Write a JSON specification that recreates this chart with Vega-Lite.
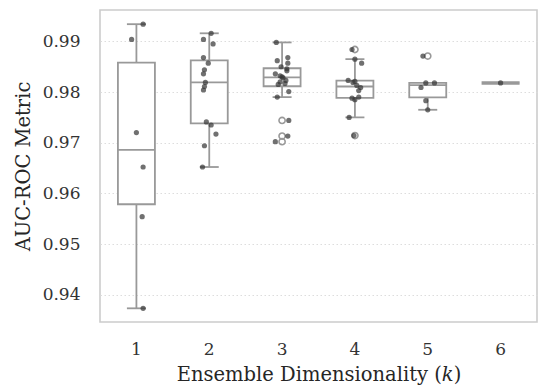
{
  "$schema": "https://vega.github.io/schema/vega-lite/v6.json",
  "width": 437,
  "height": 312,
  "autosize": "none",
  "padding": {"left": 100, "top": 10, "right": 1, "bottom": 65},
  "background": "white",
  "data": {
    "values": [
      {"k": 1, "auc": 0.9934, "trial": 19},
      {"k": 1, "auc": 0.9904, "trial": 7},
      {"k": 1, "auc": 0.9720, "trial": 12},
      {"k": 1, "auc": 0.9652, "trial": 19},
      {"k": 1, "auc": 0.9554, "trial": 18},
      {"k": 1, "auc": 0.9373, "trial": 19},
      {"k": 2, "auc": 0.9916, "trial": 14},
      {"k": 2, "auc": 0.9904, "trial": 6},
      {"k": 2, "auc": 0.9895, "trial": 16},
      {"k": 2, "auc": 0.9868, "trial": 6},
      {"k": 2, "auc": 0.9857, "trial": 11},
      {"k": 2, "auc": 0.9844, "trial": 7},
      {"k": 2, "auc": 0.9836, "trial": 6},
      {"k": 2, "auc": 0.9819, "trial": 8},
      {"k": 2, "auc": 0.9811, "trial": 7},
      {"k": 2, "auc": 0.9804, "trial": 6},
      {"k": 2, "auc": 0.9741, "trial": 9},
      {"k": 2, "auc": 0.9735, "trial": 14},
      {"k": 2, "auc": 0.9717, "trial": 19},
      {"k": 2, "auc": 0.9694, "trial": 7},
      {"k": 2, "auc": 0.9652, "trial": 5},
      {"k": 3, "auc": 0.9898, "trial": 6},
      {"k": 3, "auc": 0.9868, "trial": 18},
      {"k": 3, "auc": 0.9862, "trial": 7},
      {"k": 3, "auc": 0.9857, "trial": 18},
      {"k": 3, "auc": 0.9850, "trial": 11},
      {"k": 3, "auc": 0.9846, "trial": 17},
      {"k": 3, "auc": 0.9842, "trial": 17},
      {"k": 3, "auc": 0.9836, "trial": 5},
      {"k": 3, "auc": 0.9832, "trial": 10},
      {"k": 3, "auc": 0.9830, "trial": 12},
      {"k": 3, "auc": 0.9828, "trial": 13},
      {"k": 3, "auc": 0.9823, "trial": 16},
      {"k": 3, "auc": 0.9820, "trial": 10},
      {"k": 3, "auc": 0.9817, "trial": 15},
      {"k": 3, "auc": 0.9815, "trial": 8},
      {"k": 3, "auc": 0.9801, "trial": 19},
      {"k": 3, "auc": 0.9790, "trial": 7},
      {"k": 3, "auc": 0.9744, "trial": 19},
      {"k": 3, "auc": 0.9713, "trial": 18},
      {"k": 3, "auc": 0.9702, "trial": 5},
      {"k": 4, "auc": 0.9884, "trial": 9},
      {"k": 4, "auc": 0.9865, "trial": 12},
      {"k": 4, "auc": 0.9857, "trial": 19},
      {"k": 4, "auc": 0.9823, "trial": 5},
      {"k": 4, "auc": 0.9821, "trial": 12},
      {"k": 4, "auc": 0.9819, "trial": 10},
      {"k": 4, "auc": 0.9813, "trial": 14},
      {"k": 4, "auc": 0.9809, "trial": 18},
      {"k": 4, "auc": 0.9803, "trial": 16},
      {"k": 4, "auc": 0.9790, "trial": 16},
      {"k": 4, "auc": 0.9788, "trial": 9},
      {"k": 4, "auc": 0.9785, "trial": 12},
      {"k": 4, "auc": 0.9750, "trial": 6},
      {"k": 4, "auc": 0.9714, "trial": 11},
      {"k": 5, "auc": 0.9871, "trial": 7},
      {"k": 5, "auc": 0.9818, "trial": 10},
      {"k": 5, "auc": 0.9818, "trial": 19},
      {"k": 5, "auc": 0.9809, "trial": 5},
      {"k": 5, "auc": 0.9783, "trial": 10},
      {"k": 5, "auc": 0.9765, "trial": 12},
      {"k": 6, "auc": 0.9818, "trial": 12}
    ]
  },
  "encoding": {
    "x": {
      "field": "k",
      "type": "ordinal",
      "scale": {"paddingInner": 0, "paddingOuter": 0},
      "axis": {
        "title": "Ensemble Dimensionality (𝑘)",
        "labelAngle": 0,
        "grid": false,
        "labelPadding": 19,
        "titlePadding": 8
      }
    },
    "y": {
      "field": "auc",
      "type": "quantitative",
      "scale": {"domain": [0.9346, 0.9962], "nice": false, "zero": false},
      "axis": {
        "title": "AUC-ROC Metric",
        "values": [0.94, 0.95, 0.96, 0.97, 0.98, 0.99],
        "format": ".2f",
        "grid": true,
        "labelPadding": 20,
        "titlePadding": 9
      }
    }
  },
  "layer": [
    {
      "mark": {
        "type": "boxplot",
        "extent": 1.5,
        "size": 37,
        "color": "#999999",
        "box": {"fill": "white", "stroke": "#999999", "strokeWidth": 1.8, "opacity": 1},
        "median": {"color": "#999999", "thickness": 1.8, "opacity": 1},
        "rule": {"color": "#999999", "strokeWidth": 1.8, "opacity": 1},
        "ticks": {"color": "#999999", "size": 19, "thickness": 1.8, "opacity": 1},
        "outliers": {"filled": false, "color": "#999999", "size": 38, "strokeWidth": 1.6, "opacity": 1}
      }
    },
    {
      "transform": [{"filter": "datum.k == 6"}],
      "mark": {"type": "tick", "color": "#999999", "size": 38, "thickness": 3.5, "opacity": 1}
    },
    {
      "mark": {"type": "circle", "size": 27, "color": "#333333", "opacity": 0.7},
      "encoding": {
        "xOffset": {
          "field": "trial",
          "type": "ordinal",
          "scale": {
            "type": "point",
            "domain": [0,1,2,3,4,5,6,7,8,9,10,11,12,13,14,15,16,17,18,19,20,21,22,23,24],
            "range": [24.4, 48.4]
          }
        }
      }
    }
  ],
  "config": {
    "font": "DejaVu Serif",
    "mark": {"color": "#999999"},
    "view": {"stroke": "#cccccc", "strokeWidth": 1.6},
    "axis": {
      "domain": false,
      "ticks": false,
      "labelFont": "DejaVu Serif",
      "titleFont": "DejaVu Serif",
      "labelFontSize": 17,
      "titleFontSize": 19.5,
      "titleFontWeight": "normal",
      "labelColor": "#333333",
      "titleColor": "#262626",
      "gridColor": "#dddddd",
      "gridDash": [1.5, 2.5],
      "gridWidth": 1
    }
  }
}
